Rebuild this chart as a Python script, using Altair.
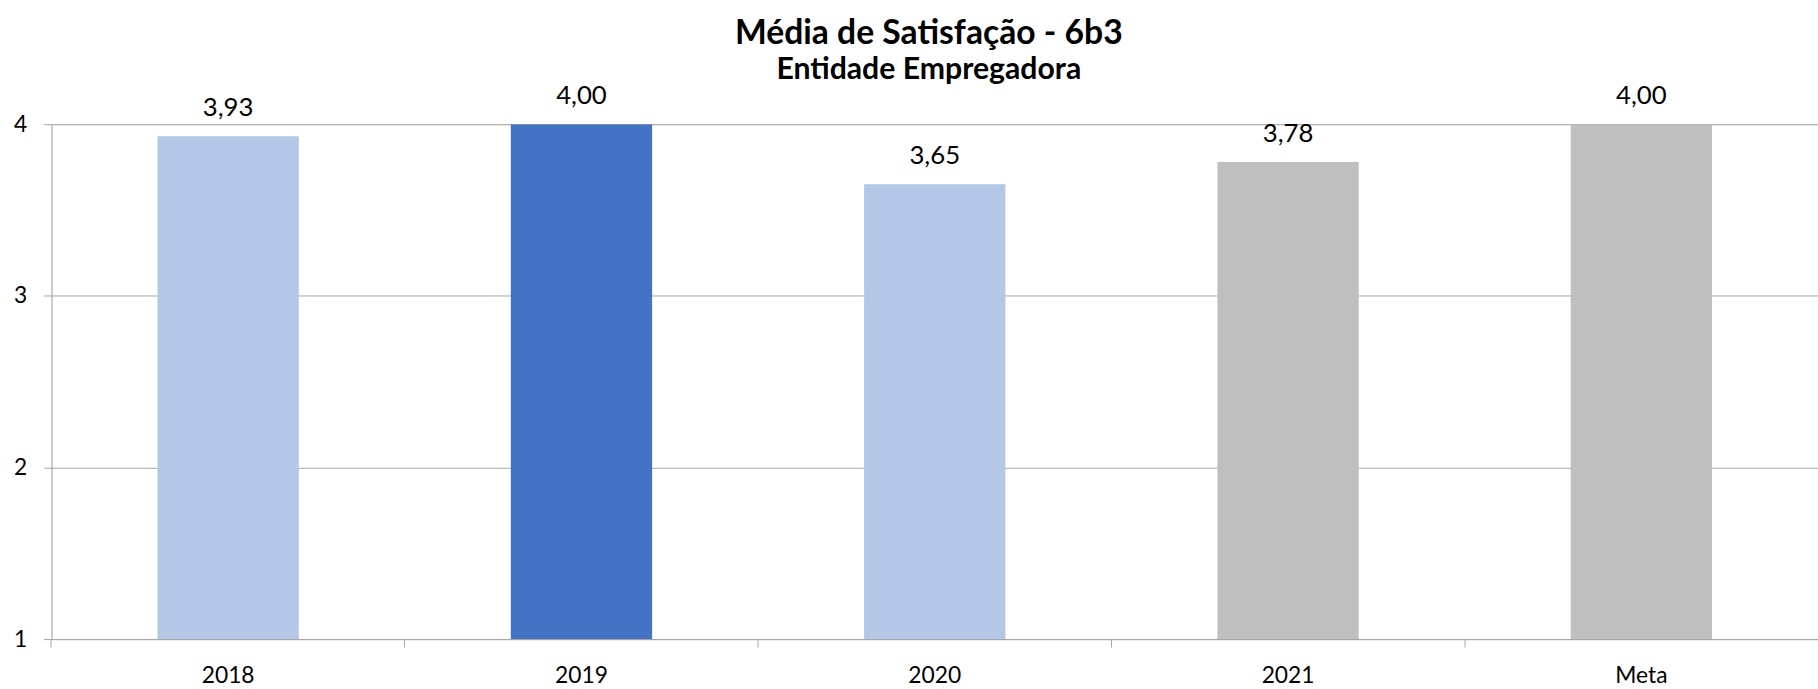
import altair as alt
import pandas as pd

categories = ["2018", "2019", "2020", "2021", "Meta"]
values = [3.93, 4.00, 3.65, 3.78, 4.00]
colors = ["#B4C7E7", "#4472C4", "#B4C7E7", "#BFBFBF", "#BFBFBF"]
y_ticks = [1, 2, 3, 4]

df = pd.DataFrame({
    "cat": categories,
    "val": values,
    "color": colors,
    "label": [f"{v:.2f}".replace(".", ",") for v in values],
})

FONT = "Lato"

x = alt.X("cat:N", sort=categories, title=None,
          scale=alt.Scale(paddingInner=0.6, paddingOuter=0.3),
          axis=alt.Axis(bandPosition=-0.75, labelOffset=0, labelAngle=0,
                        labelFont=FONT, labelFontSize=23, labelColor="#000000",
                        labelPadding=18, tickSize=8, tickColor="#A5A5A5",
                        domainColor="#A5A5A5", grid=False))
y = alt.Y("val:Q", title=None,
          scale=alt.Scale(domain=[1, 4], zero=False, nice=False),
          axis=alt.Axis(values=y_ticks, format="d", labelFont=FONT, labelFontSize=23,
                        labelColor="#000000", labelPadding=17, tickSize=8,
                        tickColor="#A5A5A5", domainColor="#A5A5A5",
                        gridColor="#A5A5A5", gridWidth=1))

bars = alt.Chart(df).mark_bar(clip=True).encode(
    x=x, y=y, y2=alt.datum(1),
    color=alt.Color("color:N", scale=None),
)

labels = alt.Chart(df).mark_text(font=FONT, fontSize=26, color="#000000",
                                 baseline="alphabetic", dy=-20).encode(
    x=alt.X("cat:N", sort=categories),
    y="val:Q",
    text="label:N",
)

chart = alt.layer(bars, labels).properties(
    width=1784, height=520,
    autosize=alt.AutoSizeParams(type="none"),
    padding={"left": 52, "top": 122, "right": 0, "bottom": 47},
    title=alt.TitleParams(
        text="Média de Satisfação - 6b3",
        subtitle="Entidade Empregadora",
        font=FONT, fontSize=34, fontWeight="bold", color="#000000",
        subtitleFont=FONT, subtitleFontSize=30.5, subtitleFontWeight="bold",
        subtitleColor="#000000", subtitlePadding=4,
        anchor="middle", dx=-6, offset=-2,
    ),
).configure_view(stroke=None).configure(background="#FFFFFF")

chart.save("out.html", embed_options={"renderer": "svg", "actions": False})
